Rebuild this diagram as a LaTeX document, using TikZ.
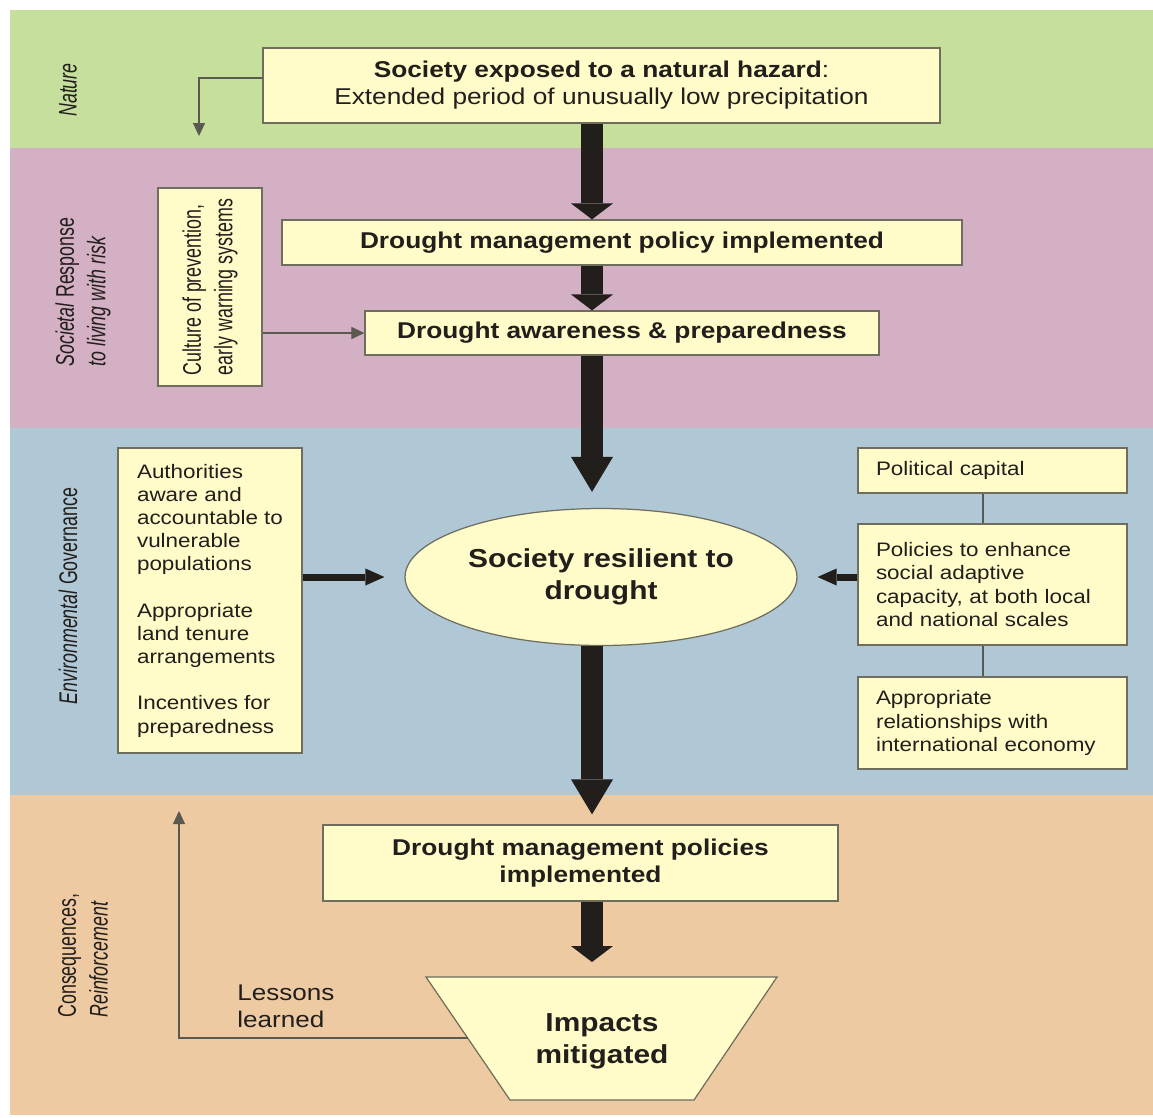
\documentclass[tikz,border=0pt]{standalone}
\usepackage{fontspec}
\setmainfont{Liberation Sans}[FakeStretch=1.15]
\newfontfamily\sidefont{Liberation Sans}[FakeStretch=0.7]
\usetikzlibrary{arrows.meta,shapes.geometric}

\definecolor{natureband}{HTML}{C6DF9D}
\definecolor{responseband}{HTML}{D4B0C4}
\definecolor{governband}{HTML}{B0C8D6}
\definecolor{consequenceband}{HTML}{EECAA2}
\definecolor{boxfill}{HTML}{FFFCCA}
\definecolor{boxline}{HTML}{6E6D5E}
\definecolor{thinline}{HTML}{5A5950}
\definecolor{arrowink}{HTML}{221E1B}

\begin{document}
\begin{tikzpicture}[x=0.02cm, y=-0.02cm,
  box/.style={draw=boxline, line width=0.7pt, fill=boxfill, inner sep=0pt, text=arrowink},
  headfont/.style={font=\bfseries\fontsize{13}{15.3}\selectfont},
  keyfont/.style={font=\bfseries\fontsize{14.8}{18.1}\selectfont},
  bodyfont/.style={font=\fontsize{11.1}{13.2}\selectfont},
  sidelabel/.style={rotate=90, align=left, inner sep=0pt, text=arrowink, font=\sidefont\fontsize{14.5}{18}\selectfont},
  bigarrow/.style={draw=arrowink, line width=4.4mm, -{Triangle[width=8.4mm, length=7mm, line width=0pt]}},
  stubarrow/.style={draw=arrowink, line width=4.4mm, -{Triangle[width=8.4mm, length=3.2mm, line width=0pt]}},
  sidearrow/.style={draw=arrowink, line width=1.4mm, -{Triangle[width=3.4mm, length=3.8mm, line width=0pt]}},
  thinarrow/.style={draw=thinline, line width=0.6pt, -{Triangle[width=2.4mm, length=2.6mm]}},
  link/.style={draw=thinline, line width=0.6pt}
]

  \useasboundingbox (0,0) rectangle (1153,1117);

  \fill[natureband] (10,10) rectangle (1153,148);
  \fill[responseband] (10,148) rectangle (1153,428);
  \fill[governband] (10,428) rectangle (1153,795);
  \fill[consequenceband] (10,795) rectangle (1153,1115);

  \node[sidelabel] (naturelabel) at (68,90) {\textit{Nature}};
  \node[sidelabel, anchor=west] (responselabel) at (83,367) {\textit{Societal} Response\\\textit{to living with risk}};
  \node[sidelabel] (governlabel) at (68,596) {\textit{Environmental} Governance};
  \node[sidelabel, anchor=west] (consequencelabel) at (83,1018) {Consequences,\\\textit{Reinforcement}};

  \node[box, minimum width=135.4mm, minimum height=15mm, align=center, headfont] (hazard) at (601.5,85.5) {Society exposed to a natural hazard{\mdseries :}\\{\mdseries Extended period of unusually low precipitation}};
  \node[box, minimum width=136mm, minimum height=9mm, headfont] (policy) at (622,242.5) {Drought management policy implemented};
  \node[box, minimum width=102.8mm, minimum height=8.8mm, headfont] (aware) at (622,333) {Drought awareness \& preparedness};
  \node[box, minimum width=20.8mm, minimum height=39.6mm] (culture) at (210,287) {};
  \node[sidelabel] (culturetext) at (culture) {Culture of prevention,\\early warning systems};

  \node[box, ellipse, minimum width=78.4mm, minimum height=27.4mm, align=center, keyfont] (society) at (601,577) {Society resilient to\\drought};

  \node[box, minimum width=36.8mm, minimum height=61mm, align=left, bodyfont] (enablers) at (210,600.5) {Authorities\\aware and\\accountable to\\vulnerable\\populations\\[13.2pt]Appropriate\\land tenure\\arrangements\\[13.2pt]Incentives for\\preparedness};

  \node[box, minimum width=53.8mm, minimum height=9mm, text width=46.6mm, align=left, bodyfont] (capital) at (992.5,470.5) {Political capital};
  \node[box, minimum width=53.8mm, minimum height=24.2mm, text width=46.6mm, align=left, bodyfont] (adaptive) at (992.5,584.5) {Policies to enhance\\social adaptive\\capacity, at both local\\and national scales};
  \node[box, minimum width=53.8mm, minimum height=18.4mm, text width=46.6mm, align=left, bodyfont] (economy) at (992.5,723) {Appropriate\\relationships with\\international economy};

  \node[box, minimum width=103mm, minimum height=15.2mm, align=center, headfont] (measures) at (580.5,863) {Drought management policies\\implemented};

  \draw[box] (426,977) coordinate (impactstop) -- (777,977) -- (694,1100) -- (510,1100) -- cycle;
  \node[align=center, inner sep=0pt, text=arrowink, keyfont] (impacts) at (602,1041) {Impacts\\mitigated};
  \node[anchor=west, align=left, inner sep=0pt, text=arrowink, font=\fontsize{12.9}{15.3}\selectfont] (lessons) at (237,1006) {Lessons\\learned};

  \coordinate (spine) at (592,0);
  \coordinate (rail) at (983,0);
  \coordinate (hazardturn) at (199,136);
  \coordinate (lessonsturn) at (179,811);
  \coordinate (impactsside) at (468,1038);

  \draw[stubarrow] (hazard.south -| spine) -- (policy.north -| spine);
  \draw[stubarrow] (policy.south -| spine) -- (aware.north -| spine);
  \draw[bigarrow, shorten >=3.2mm] (aware.south -| spine) -- (society.north -| spine);
  \draw[bigarrow, shorten >=2mm] (society.south -| spine) -- (measures.north -| spine);
  \draw[stubarrow, shorten >=3mm] (measures.south -| spine) -- (impactstop -| spine);

  \draw[sidearrow, shorten >=4mm] (enablers.east |- society) -- (society.west);
  \draw[sidearrow, shorten >=4mm] (adaptive.west |- society) -- (society.east);

  \draw[thinarrow] ([yshift=1.5mm]hazard.west) -| (hazardturn);
  \draw[thinarrow] (culture.east |- aware.west) -- (aware.west);
  \draw[thinarrow] (impactsside) -| (lessonsturn);

  \draw[link] (capital.south -| rail) -- (adaptive.north -| rail);
  \draw[link] (adaptive.south -| rail) -- (economy.north -| rail);

\end{tikzpicture}
\end{document}
